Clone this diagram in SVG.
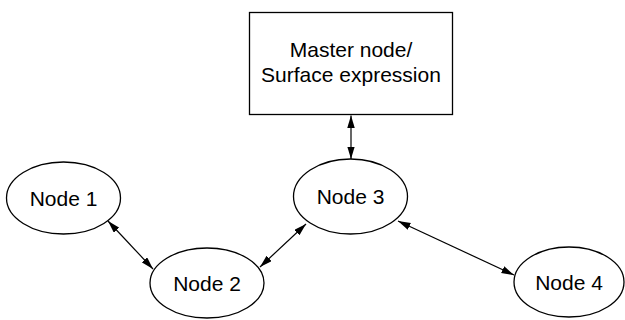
<svg xmlns="http://www.w3.org/2000/svg" width="625" height="320" viewBox="0 0 625 320">
  <style>
    .shape { fill: #ffffff; stroke: #000000; stroke-width: 1.3; }
    .label { font-family: "Liberation Sans", Arial, sans-serif; font-size: 21px; fill: #000000; text-anchor: middle; }
    .link { stroke: #000000; stroke-width: 1.2; fill: none; marker-start: url(#head); marker-end: url(#head); }
  </style>
  <defs>
    <marker id="head" markerUnits="userSpaceOnUse" markerWidth="13" markerHeight="8" refX="12.5" refY="3.75" orient="auto-start-reverse">
      <path d="M0,0 L12.5,3.75 L0,7.5 z" fill="#000000"/>
    </marker>
  </defs>

  <rect width="625" height="320" fill="#ffffff"/>

  <!-- bidirectional links between nodes -->
  <g id="connectors">
    <line class="link" x1="351" y1="115.5" x2="351" y2="159"/>
    <line class="link" x1="108" y1="221" x2="153" y2="269"/>
    <line class="link" x1="260" y1="267" x2="306" y2="224"/>
    <line class="link" x1="398" y1="221" x2="514" y2="275"/>
  </g>

  <g id="master">
    <rect class="shape" x="249.5" y="12.5" width="203" height="102"/>
    <text class="label" x="351" y="57">Master node/</text>
    <text class="label" x="351" y="82">Surface expression</text>
  </g>

  <g id="node1">
    <ellipse class="shape" cx="63.5" cy="198" rx="57" ry="36"/>
    <text class="label" x="63.5" y="205.5">Node 1</text>
  </g>

  <g id="node2">
    <ellipse class="shape" cx="207" cy="283" rx="57" ry="35"/>
    <text class="label" x="207" y="291">Node 2</text>
  </g>

  <g id="node3">
    <ellipse class="shape" cx="350.5" cy="196.5" rx="57" ry="37.5"/>
    <text class="label" x="350.5" y="204">Node 3</text>
  </g>

  <g id="node4">
    <ellipse class="shape" cx="569" cy="282" rx="55" ry="35"/>
    <text class="label" x="569" y="290">Node 4</text>
  </g>
</svg>
